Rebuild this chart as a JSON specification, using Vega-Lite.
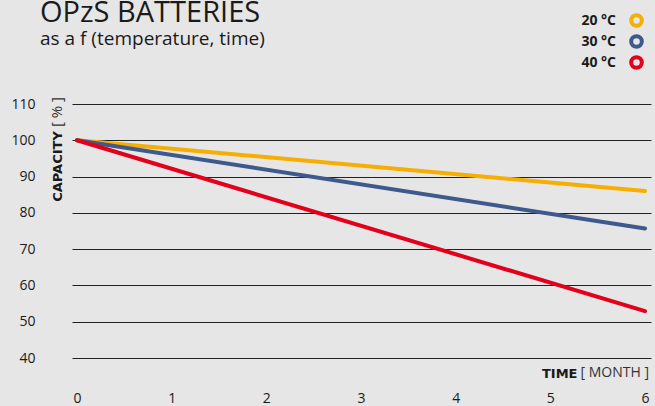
{
  "$schema": "https://vega.github.io/schema/vega-lite/v6.json",
  "width": 579,
  "height": 254,
  "autosize": {"type": "none"},
  "padding": {"left": 72, "top": 104, "right": 4, "bottom": 48},
  "background": "#e6e6e6",
  "title": {
    "text": "OPzS BATTERIES",
    "subtitle": "as a f (temperature, time)",
    "anchor": "start",
    "frame": "group",
    "dx": -32,
    "font": "Open Sans",
    "fontSize": 29,
    "fontWeight": "normal",
    "color": "#1a1a1a",
    "subtitleFont": "Open Sans",
    "subtitleFontSize": 19,
    "subtitleColor": "#1a1a1a",
    "subtitlePadding": 2,
    "offset": -36
  },
  "config": {
    "view": {"stroke": null},
    "font": "Open Sans"
  },
  "datasets": {
    "curves": [
      {"month": 0, "capacity": 100, "temp": "20 °C"},
      {"month": 6, "capacity": 86.0, "temp": "20 °C"},
      {"month": 0, "capacity": 100, "temp": "30 °C"},
      {"month": 6, "capacity": 75.7, "temp": "30 °C"},
      {"month": 0, "capacity": 100, "temp": "40 °C"},
      {"month": 6, "capacity": 52.9, "temp": "40 °C"}
    ],
    "notes": [
      {"label": "[ % ]", "month": -0.211, "capacity": 107.8, "kind": "y"},
      {"label": "[ MONTH ]", "month": 6.042, "capacity": 35.85, "kind": "x"}
    ]
  },
  "encoding": {
    "x": {
      "field": "month", "type": "quantitative",
      "scale": {"domain": [-0.053, 6.063], "nice": false, "zero": false},
      "axis": {
        "values": [0, 1, 2, 3, 4, 5, 6], "format": "d",
        "grid": false, "domain": false, "ticks": false,
        "labelPadding": 33, "labelFontSize": 14, "labelColor": "#1a1a1a", "labelFont": "Open Sans",
        "title": "TIME", "titleFontWeight": "bold", "titleFontSize": 13, "titleColor": "#1a1a1a", "titleFont": "DejaVu Sans",
        "titleX": 505, "titleY": 15, "titleAlign": "right", "titleBaseline": "middle"
      }
    },
    "y": {
      "field": "capacity", "type": "quantitative",
      "scale": {"domain": [40, 110], "nice": false, "zero": false},
      "axis": {
        "values": [40, 50, 60, 70, 80, 90, 100, 110], "format": "d",
        "grid": true, "gridColor": "#222222", "gridWidth": 1, "gridOpacity": 1,
        "domain": false, "ticks": false, "labelOverlap": false,
        "labelPadding": 37, "labelFontSize": 14, "labelColor": "#1a1a1a", "labelFont": "Open Sans",
        "title": "CAPACITY", "titleFontWeight": "bold", "titleFontSize": 13, "titleColor": "#1a1a1a", "titleFont": "DejaVu Sans",
        "titleX": -15, "titleY": 62, "titleAlign": "center", "titleBaseline": "middle", "titleAngle": 270
      }
    }
  },
  "layer": [
    {
      "data": {"name": "curves"},
      "mark": {"type": "line", "strokeWidth": 4, "strokeCap": "round", "strokeJoin": "round"},
      "encoding": {
        "color": {
          "field": "temp", "type": "nominal",
          "scale": {"domain": ["20 °C", "30 °C", "40 °C"], "range": ["#f6ae00", "#3e5a8c", "#e3001b"]},
          "legend": {
            "orient": "none", "legendX": 557, "legendY": -91,
            "title": null, "padding": 0,
            "symbolType": "circle", "symbolFillColor": "transparent", "symbolStrokeWidth": 4, "symbolSize": 113,
            "labelAlign": "right", "labelOffset": -28, "labelFontSize": 14, "labelFontWeight": "bold", "labelColor": "#1a1a1a", "labelFont": "Open Sans",
            "rowPadding": -6
          }
        }
      }
    },
    {
      "data": {"name": "notes"},
      "transform": [{"filter": "datum.kind === 'y'"}],
      "mark": {"type": "text", "angle": 270, "align": "center", "baseline": "middle", "fontSize": 15, "color": "#333333", "font": "Open Sans"},
      "encoding": {
        "text": {"field": "label"}
      }
    },
    {
      "data": {"name": "notes"},
      "transform": [{"filter": "datum.kind === 'x'"}],
      "mark": {"type": "text", "align": "right", "baseline": "middle", "fontSize": 14, "color": "#333333", "font": "Open Sans"},
      "encoding": {
        "text": {"field": "label"}
      }
    }
  ]
}
